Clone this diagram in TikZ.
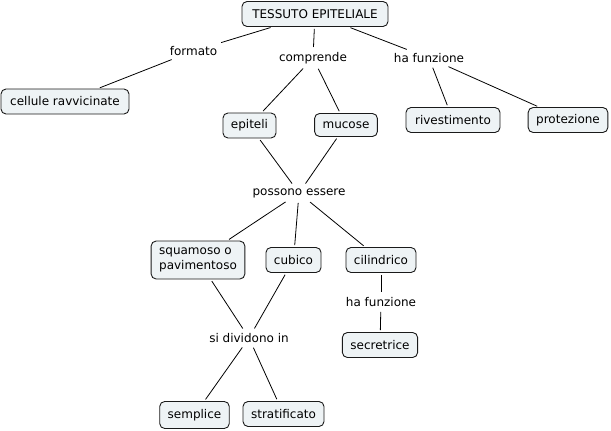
\documentclass[tikz,border=0pt]{standalone}
\usepackage{fontspec}
\setmainfont{DejaVu Sans}
\definecolor{boxfill}{HTML}{EEF3F5}
\definecolor{boxline}{HTML}{1A1A1A}
\begin{document}
\begin{tikzpicture}[x=1pt,y=-1pt,
  every node/.style={font=\fontsize{12}{14.5}\selectfont, text=black},
  concept/.style={draw=boxline, line width=0.9pt, rounded corners=5pt, fill=boxfill,
    minimum height=25pt, inner xsep=8pt, inner ysep=4pt},
  linkw/.style={inner sep=3pt},
  conn/.style={draw=black, line width=0.8pt, shorten <=2pt, shorten >=2pt}]
\useasboundingbox (0,0) rectangle (611,431);
% concepts
\node[concept, minimum width=146pt] (tes) at (315,14) {TESSUTO EPITELIALE};
\node[concept, minimum width=128pt] (cel) at (65,101.5) {cellule ravvicinate};
\node[concept, minimum width=53pt] (epi) at (249.5,125.5) {epiteli};
\node[concept, minimum width=62pt, minimum height=23pt] (muc) at (346,125) {mucose};
\node[concept, minimum width=94pt] (riv) at (453,120) {rivestimento};
\node[concept, minimum width=79pt] (pro) at (568,120) {protezione};
\node[concept, minimum width=93pt, minimum height=38pt, align=left] (squ) at (198,260) {squamoso o\\pavimentoso};
\node[concept, minimum width=55pt] (cub) at (293.5,260) {cubico};
\node[concept, minimum width=69pt] (cil) at (381,260) {cilindrico};
\node[concept, minimum width=74pt] (sec) at (380,345) {secretrice};
\node[concept, minimum width=69pt, minimum height=27pt] (sem) at (194.5,415) {semplice};
\node[concept, minimum width=81pt] (str) at (283.5,414) {stratificato};
% linking phrases
\node[linkw] (for) at (193.5,51) {formato};
\node[linkw] (com) at (313,58) {comprende};
\node[linkw] (hf1) at (429,58) {ha funzione};
\node[linkw] (pos) at (299,193) {possono essere};
\node[linkw] (sid) at (249,338) {si dividono in};
\node[linkw] (hf2) at (381,302) {ha funzione};
% connectors
\draw[conn] (tes) -- (for);
\draw[conn] (for) -- (cel);
\draw[conn] (tes) -- (com);
\draw[conn] (com) -- (epi);
\draw[conn] (com) -- (muc);
\draw[conn] (tes) -- (hf1);
\draw[conn] (hf1) -- (riv);
\draw[conn] (hf1) -- (pro);
\draw[conn] (epi) -- (pos);
\draw[conn] (muc) -- (pos);
\draw[conn] (pos) -- (squ);
\draw[conn] (pos) -- (cub);
\draw[conn] (pos) -- (cil);
\draw[conn] (squ) -- (sid);
\draw[conn] (cub) -- (sid);
\draw[conn] (sid) -- (sem);
\draw[conn] (sid) -- (str);
\draw[conn] (cil) -- (hf2);
\draw[conn] (hf2) -- (sec);
\end{tikzpicture}
\end{document}
